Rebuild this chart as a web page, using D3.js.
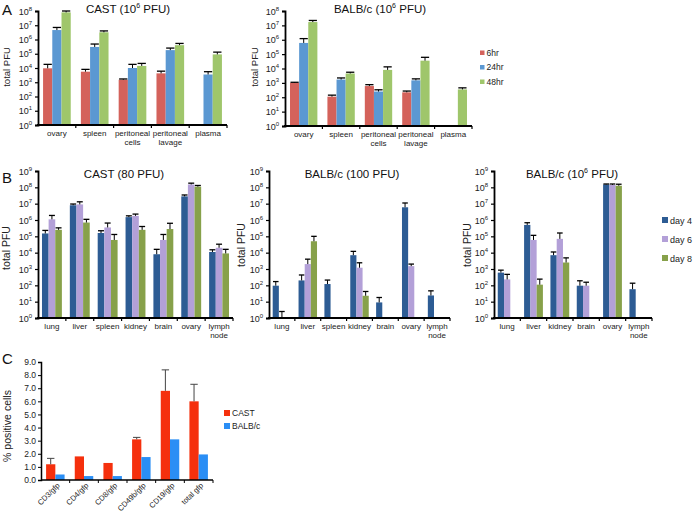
<!DOCTYPE html>
<html><head><meta charset="utf-8">
<script src="https://cdn.jsdelivr.net/npm/d3@7"></script>
<style>
body{margin:0;background:#fff;}
svg{display:block;font-family:"Liberation Sans",Arial,sans-serif;}
</style></head>
<body>
<svg id="chart" width="696" height="513"></svg>
<script>
// ---------- DATA ----------
const aCategories = ["ovary", "spleen", "peritoneal|cells", "peritoneal|lavage", "plasma"];
const aSeries = ["6hr", "24hr", "48hr"];
const aCastValues = [
  [9.5e3, 5.5e3, 1.5e3, 4.2e3, null],
  [4.6e6, 3.0e5, 1.0e4, 1.8e5, 3.5e3],
  [8.0e7, 3.2e6, 1.4e4, 4.0e5, 9.0e4]
];
const aCastErrors = [
  [1.8e4, 8.0e3, 1.7e3, 6.0e3, null],
  [7.0e6, 4.8e5, 1.8e4, 2.5e5, 5.5e3],
  [1.0e8, 4.0e6, 2.1e4, 5.3e5, 1.3e5]
];
const aBalbValues = [
  [1.0e3, 1.1e2, 6.0e2, 2.2e2, null],
  [6.0e5, 1.7e3, 2.5e2, 1.5e3, null],
  [1.7e7, 4.5e3, 8.0e3, 3.5e4, 3.5e2]
];
const aBalbErrors = [
  [1.1e3, 1.4e2, 7.5e2, 2.7e2, null],
  [1.2e6, 2.2e3, 3.3e2, 1.9e3, null],
  [2.2e7, 5.5e3, 1.3e4, 6.0e4, 4.5e2]
];

const bCategories = ["lung", "liver", "spleen", "kidney", "brain", "ovary", "lymph|node"];
const bCategoriesRight = ["lung", "liver", "kidney", "brain", "ovary", "lymph|node"];
const bSeries = ["day 4", "day 6", "day 8"];
const bCast80Values = [
  [1.5e5, 8.0e6, 1.6e5, 1.5e6, 8.0e3, 2.8e7, 1.1e4],
  [1.1e6, 9.0e6, 3.5e5, 1.8e6, 6.0e4, 1.5e8, 2.0e4],
  [2.5e5, 7.0e5, 6.0e4, 2.5e5, 2.8e5, 1.1e8, 9.0e3]
];
const bCast80Errors = [
  [2.3e5, 9.5e6, 2.2e5, 1.8e6, 1.6e4, 3.4e7, 1.5e4],
  [1.9e6, 1.3e7, 6.5e5, 2.3e6, 1.3e5, 1.8e8, 3.3e4],
  [3.3e5, 1.1e6, 1.3e5, 4.0e5, 6.3e5, 1.3e8, 1.6e4]
];
const bBalb100Values = [
  [95, 2.0e2, 1.2e2, 7.0e3, 9, 6.0e6, 24],
  [1, 2.0e3, null, 1.2e3, null, 1.5e3, null],
  [null, 5.0e4, null, 23, null, null, null]
];
const bBalb100Errors = [
  [1.7e2, 4.3e2, 2.1e2, 1.2e4, 18, 1.1e7, 46],
  [2.5, 4.0e3, null, 2.4e3, null, 2.0e3, null],
  [null, 1.0e5, null, 42, null, null, null]
];
const bBalb1e6Values = [
  [6.0e2, 5.0e5, 7.0e3, 95, 1.5e8, 58],
  [2.3e2, 6.0e4, 7.0e4, 95, 1.4e8, null],
  [null, 1.1e2, 2.5e3, null, 1.25e8, null]
];
const bBalb1e6Errors = [
  [8.5e2, 6.8e5, 1.1e4, 1.9e2, 1.6e8, 1.35e2],
  [4.7e2, 1.15e5, 1.6e5, 1.55e2, 1.6e8, null],
  [null, 2.4e2, 4.8e3, null, 1.55e8, null]
];

const cCategories = ["CD3/gfp", "CD4/gfp", "CD8/gfp", "CD49b/gfp", "CD19/gfp", "total gfp"];
const cSeries = ["CAST", "BALB/c"];
const cValues = [
  [1.2, 1.8, 1.3, 3.1, 6.8, 6.0],
  [0.42, 0.3, 0.3, 1.75, 3.1, 1.95]
];
const cErrors = [
  [1.65, null, null, 3.25, 8.4, 7.3],
  [null, null, null, null, null, null]
];
const cTicks = [0, 1, 2, 3, 4, 5, 6, 7, 8, 9];

const colorsA = ["#d4625b", "#5b98d2", "#9fc66b"];
const colorsB = ["#2d5c94", "#b3a0d8", "#87a14a"];
const colorsC = ["#f5300d", "#2a8ef5"];

// ---------- DRAWING ----------
const svg = d3.select("#chart");

function catLabel(g, text, x, y, size, lh) {
  const parts = text.split("|");
  const t = g.append("text").attr("x", x).attr("y", y).attr("text-anchor", "middle")
    .attr("font-size", size).attr("fill", "#222");
  parts.forEach((p, i) => t.append("tspan").attr("x", x).attr("dy", i === 0 ? 0 : lh).text(p));
}

function drawLogPanel(cfg) {
  const g = svg.append("g");
  const x = d3.scaleBand().domain(cfg.categories).range([cfg.x0, cfg.x1]).paddingInner(0).paddingOuter(0);
  const y = d3.scaleLog().domain([1, Math.pow(10, cfg.maxExp)]).range([cfg.yBottom, cfg.yTop]);
  const inner = d3.scaleBand().domain(d3.range(cfg.values.length))
    .range([0, x.bandwidth()]).paddingOuter(cfg.outerPad).paddingInner(0);

  cfg.values.forEach((series, si) => {
    series.forEach((v, ci) => {
      if (v == null) return;
      const bx = x(cfg.categories[ci]) + inner(si);
      const yv = y(Math.max(v, 1));
      g.append("rect").attr("x", bx).attr("y", yv).attr("width", inner.bandwidth())
        .attr("height", cfg.yBottom - yv).attr("fill", cfg.colors[si]);
      const e = cfg.errors[si][ci];
      if (e != null) {
        const cx = bx + inner.bandwidth() / 2;
        const ye = y(e);
        g.append("line").attr("x1", cx).attr("x2", cx).attr("y1", yv).attr("y2", ye)
          .attr("stroke", "#000").attr("stroke-width", 1);
        g.append("line").attr("x1", cx - inner.bandwidth() * 0.45).attr("x2", cx + inner.bandwidth() * 0.45)
          .attr("y1", ye).attr("y2", ye).attr("stroke", "#000").attr("stroke-width", 1.3);
      }
    });
  });

  const tickVals = d3.range(0, cfg.maxExp + 1).map(k => Math.pow(10, k));
  const ax = g.append("g").attr("transform", `translate(${cfg.x0},0)`)
    .call(d3.axisLeft(y).tickValues(tickVals).tickSize(3).tickFormat(""));
  ax.select(".domain").attr("stroke-width", 1.8);
  ax.selectAll(".tick line").attr("stroke-width", 1.2);
  tickVals.forEach((tv, k) => {
    const t = g.append("text").attr("x", cfg.x0 - 6).attr("y", y(tv) + 3.5)
      .attr("text-anchor", "end").attr("font-size", 9).attr("fill", "#222");
    t.append("tspan").text("10");
    t.append("tspan").attr("font-size", 6).attr("dy", -4).text(k);
  });

  g.append("line").attr("x1", cfg.x0 - 1).attr("x2", cfg.x1).attr("y1", cfg.yBottom).attr("y2", cfg.yBottom)
    .attr("stroke", "#000").attr("stroke-width", 1.8);
  cfg.categories.forEach((c) => {
    const bx = x(c) + x.bandwidth();
    g.append("line").attr("x1", bx).attr("x2", bx).attr("y1", cfg.yBottom).attr("y2", cfg.yBottom + 3)
      .attr("stroke", "#000").attr("stroke-width", 1.2);
    catLabel(g, c, x(c) + x.bandwidth() / 2, cfg.yBottom + 11, 8, 9);
  });

  const tt = g.append("text").attr("x", cfg.titleX).attr("y", cfg.titleY).attr("text-anchor", "middle")
    .attr("font-size", 11.5).attr("font-weight", "normal").attr("fill", "#111");
  cfg.title.forEach(p => {
    const s = tt.append("tspan").text(p.t);
    if (p.sup) s.attr("font-size", 7).attr("dy", -5);
    if (p.down) s.attr("dy", 5);
  });

  g.append("text").attr("transform", `translate(${cfg.ylabX},${cfg.ylabY}) rotate(-90)`)
    .attr("text-anchor", "middle").attr("font-size", cfg.ylabSize).attr("fill", "#222").text("total PFU");

  if (cfg.legend) {
    cfg.legend.labels.forEach((lab, i) => {
      const ly = cfg.legend.y0 + i * cfg.legend.dy;
      g.append("rect").attr("x", cfg.legend.x).attr("y", ly - cfg.legend.sq).attr("width", cfg.legend.sq)
        .attr("height", cfg.legend.sq).attr("fill", cfg.colors[i]);
      g.append("text").attr("x", cfg.legend.x + cfg.legend.sq + 2).attr("y", ly + 0.5)
        .attr("font-size", cfg.legend.fs).attr("fill", "#222").text(lab);
    });
  }
}

drawLogPanel({
  categories: aCategories, values: aCastValues, errors: aCastErrors, colors: colorsA,
  x0: 38, x1: 227, yTop: 11, yBottom: 125, maxExp: 8, outerPad: 0.55,
  title: [{t: "CAST (10"}, {t: "6", sup: true}, {t: " PFU)", down: true}], titleX: 128, titleY: 13,
  ylabX: 10, ylabY: 67, ylabSize: 9.5
});
drawLogPanel({
  categories: aCategories, values: aBalbValues, errors: aBalbErrors, colors: colorsA,
  x0: 285, x1: 472, yTop: 11, yBottom: 126, maxExp: 8, outerPad: 0.55,
  title: [{t: "BALB/c (10"}, {t: "6", sup: true}, {t: " PFU)", down: true}], titleX: 380, titleY: 13,
  ylabX: 258, ylabY: 67, ylabSize: 9.5,
  legend: {labels: aSeries, x: 480, y0: 55, dy: 14.5, sq: 4.5, fs: 8.5}
});
drawLogPanel({
  categories: bCategories, values: bCast80Values, errors: bCast80Errors, colors: colorsB,
  x0: 38, x1: 233, yTop: 171, yBottom: 318, maxExp: 9, outerPad: 0.6,
  title: [{t: "CAST (80 PFU)"}], titleX: 124, titleY: 178,
  ylabX: 10, ylabY: 248, ylabSize: 10.5
});
drawLogPanel({
  categories: bCategories, values: bBalb100Values, errors: bBalb100Errors, colors: colorsB,
  x0: 269, x1: 450, yTop: 171, yBottom: 318, maxExp: 9, outerPad: 0.6,
  title: [{t: "BALB/c (100 PFU)"}], titleX: 352, titleY: 178,
  ylabX: 245, ylabY: 245, ylabSize: 10.5
});
drawLogPanel({
  categories: bCategoriesRight, values: bBalb1e6Values, errors: bBalb1e6Errors, colors: colorsB,
  x0: 494, x1: 652, yTop: 171, yBottom: 318, maxExp: 9, outerPad: 0.6,
  title: [{t: "BALB/c (10"}, {t: "6", sup: true}, {t: " PFU)", down: true}], titleX: 572, titleY: 178,
  ylabX: 471, ylabY: 245, ylabSize: 10.5,
  legend: {labels: bSeries, x: 662, y0: 223, dy: 19, sq: 6, fs: 9}
});

// ---------- PANEL C ----------
(function () {
  const g = svg.append("g");
  const x0 = 41, x1 = 213, yTop = 362, yBottom = 480;
  const x = d3.scaleBand().domain(cCategories).range([x0, x1]);
  const y = d3.scaleLinear().domain([0, 9]).range([yBottom, yTop]);
  const inner = d3.scaleBand().domain([0, 1]).range([0, x.bandwidth()]).paddingOuter(0.55);
  cValues.forEach((series, si) => {
    series.forEach((v, ci) => {
      const bx = x(cCategories[ci]) + inner(si);
      g.append("rect").attr("x", bx).attr("y", y(v)).attr("width", inner.bandwidth())
        .attr("height", yBottom - y(v)).attr("fill", colorsC[si]);
      const e = cErrors[si][ci];
      if (e != null) {
        const cx = bx + inner.bandwidth() / 2;
        g.append("line").attr("x1", cx).attr("x2", cx).attr("y1", y(v)).attr("y2", y(e))
          .attr("stroke", "#444").attr("stroke-width", 1);
        g.append("line").attr("x1", cx - inner.bandwidth() * 0.4).attr("x2", cx + inner.bandwidth() * 0.4)
          .attr("y1", y(e)).attr("y2", y(e)).attr("stroke", "#444").attr("stroke-width", 1);
      }
    });
  });
  const ax = g.append("g").attr("transform", `translate(${x0},0)`)
    .call(d3.axisLeft(y).tickValues(cTicks).tickSize(3).tickFormat(d3.format(".1f")));
  ax.select(".domain").attr("stroke-width", 1.5);
  ax.selectAll(".tick text").attr("font-size", 8.5).attr("fill", "#222")
    .attr("font-family", "Liberation Sans, Arial, sans-serif").attr("x", -5);
  g.append("line").attr("x1", x0).attr("x2", x1).attr("y1", yBottom).attr("y2", yBottom)
    .attr("stroke", "#000").attr("stroke-width", 1.5);
  cCategories.forEach(c => {
    const bx = x(c) + x.bandwidth();
    g.append("line").attr("x1", bx).attr("x2", bx).attr("y1", yBottom).attr("y2", yBottom + 3)
      .attr("stroke", "#000").attr("stroke-width", 1);
    const cx = x(c) + x.bandwidth() / 2;
    g.append("text").attr("transform", `translate(${cx + 5},${yBottom + 6}) rotate(-45)`)
      .attr("text-anchor", "end").attr("font-size", 7.6).attr("fill", "#222").text(c);
  });
  g.append("text").attr("transform", `translate(11,426) rotate(-90)`).attr("text-anchor", "middle")
    .attr("font-size", 10.5).attr("fill", "#222").text("% positive cells");
  cSeries.forEach((s, i) => {
    const ly = 416 + i * 13;
    g.append("rect").attr("x", 224).attr("y", ly - 6).attr("width", 6).attr("height", 6).attr("fill", colorsC[i]);
    g.append("text").attr("x", 232).attr("y", ly).attr("font-size", 8.5).attr("fill", "#222").text(s);
  });
})();

[["A", 2, 15], ["B", 2, 183], ["C", 2, 364]].forEach(([l, lx, ly]) => {
  svg.append("text").attr("x", lx).attr("y", ly).attr("font-size", 15).attr("fill", "#111").text(l);
});
</script>
</body></html>
